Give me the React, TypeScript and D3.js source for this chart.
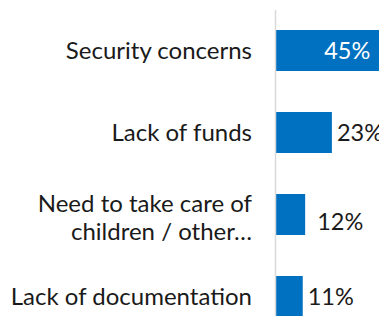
import React, { useEffect, useRef } from "react";
import * as d3 from "d3";

const categories = [
  "Security concerns",
  "Lack of funds",
  "Need to take care of children / other…",
  "Lack of documentation",
];
const categoryLines = [
  ["Security concerns"],
  ["Lack of funds"],
  ["Need to take care of", "children / other…"],
  ["Lack of documentation"],
];
const values = [45, 23, 12, 11];
const valueLabels = ["45%", "23%", "12%", "11%"];

const W = 379;
const H = 316;

// the 12% label sits a little lower/right in the original
const labelNudge: Record<string, [number, number]> = {
  "Need to take care of children / other…": [7, 7],
};

export default function App() {
  const ref = useRef<SVGSVGElement>(null);

  useEffect(() => {
    const svg = d3.select(ref.current);
    svg.selectAll("*").remove();

    const x = d3.scaleLinear().domain([0, 50]).range([276, 276 + 121.5]);
    const y = d3
      .scaleBand()
      .domain(categories)
      .range([9.5, 337.5])
      .paddingInner(0.5)
      .paddingOuter(0.25);

    // bars
    svg
      .selectAll("rect.bar")
      .data(values)
      .enter()
      .append("rect")
      .attr("class", "bar")
      .attr("x", x(0))
      .attr("y", (d, i) => y(categories[i])!)
      .attr("width", (d) => x(d) - x(0))
      .attr("height", y.bandwidth())
      .attr("fill", "#0070C0");

    // axis line
    const axis = svg
      .append("g")
      .attr("transform", "translate(" + (x(0) - 1) + ",0)")
      .call(d3.axisLeft(y).tickSize(0).tickSizeOuter(0).tickFormat(() => ""));
    axis.select(".domain").attr("stroke", "#d9d9d9").attr("stroke-width", 1.5);

    // category labels
    const lineH = 28.5;
    categoryLines.forEach((lines, i) => {
      const cy = y(categories[i])! + y.bandwidth() / 2 + (lines.length > 1 ? 3 : 0);
      const t = svg
        .append("text")
        .attr("x", 252)
        .attr("text-anchor", "end")
        .attr("font-family", "Lato")
        .attr("font-size", 24)
        .attr("fill", "#1a1a1a");
      lines.forEach((ln, j) => {
        t.append("tspan")
          .attr("x", 252)
          .attr("y", cy + (j - (lines.length - 1) / 2) * lineH)
          .attr("dy", "0.35em")
          .text(ln);
      });
    });

    // value labels
    values.forEach((v, i) => {
      const nudge = labelNudge[categories[i]] || [0, 0];
      const cy = y(categories[i])! + y.bandwidth() / 2 + nudge[1];
      const inside = v > 40;
      svg
        .append("text")
        .attr("x", (inside ? x(v) - 15 : x(v) + 5) + nudge[0])
        .attr("y", cy)
        .attr("dy", "0.35em")
        .attr("text-anchor", inside ? "end" : "start")
        .attr("font-family", "Lato")
        .attr("font-size", 23.5)
        .attr("fill", inside ? "#ffffff" : "#1a1a1a")
        .text(valueLabels[i]);
    });
  }, []);

  return (
    <svg
      ref={ref}
      width={W}
      height={H}
      style={{ position: "fixed", top: 0, left: 0, background: "#fff" }}
    />
  );
}
